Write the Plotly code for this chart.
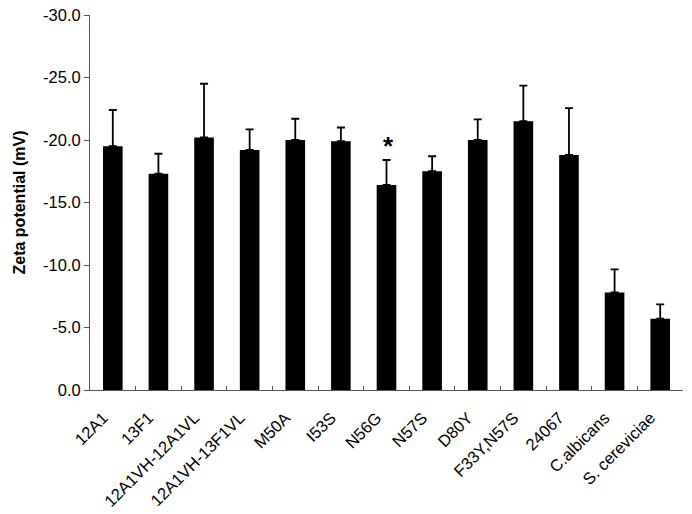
import plotly.graph_objects as go

categories = ["12A1", "13F1", "12A1VH-12A1VL", "12A1VH-13F1VL", "M50A", "I53S",
              "N56G", "N57S", "D80Y", "F33Y,N57S", "24067", "C.albicans", "S. cereviciae"]
zeta = [-19.5, -17.3, -20.2, -19.2, -20.0, -19.9, -16.4, -17.5, -20.0, -21.5, -18.8, -7.8, -5.7]
sd = [2.9, 1.6, 4.3, 1.65, 1.7, 1.1, 2.0, 1.2, 1.65, 2.85, 3.75, 1.85, 1.15]
y_ticks = [0, -5, -10, -15, -20, -25, -30]
star_category = "N56G"

font = "Liberation Sans, Arial, sans-serif"

fig = go.Figure()
fig.add_trace(go.Bar(
    x=categories, y=zeta,
    marker=dict(color="black", line=dict(width=0)),
    error_y=dict(type="data", symmetric=False, array=[0] * len(sd), arrayminus=sd,
                 color="black", thickness=1.8, width=4),
))

si = categories.index(star_category)
fig.add_annotation(x=star_category, y=zeta[si] - sd[si], text="<b>*</b>", showarrow=False,
                   yanchor="bottom", yshift=-3, xshift=2,
                   font=dict(family=font, size=26, color="black"))

fig.update_layout(
    width=692, height=514,
    margin=dict(l=90, r=9, t=15, b=124),
    paper_bgcolor="white", plot_bgcolor="white",
    bargap=0.57, showlegend=False,
    font=dict(family=font, size=16, color="black"),
)
fig.update_xaxes(
    range=[-0.5, len(categories) - 0.5], tickangle=-45, tickson="boundaries",
    tickvals=categories, ticktext=[c + "\u00a0\u00a0\u00a0" for c in categories],
    ticks="inside", ticklen=4, tickcolor="#555", showline=True, linecolor="#555", linewidth=1,
    showgrid=False, tickfont=dict(size=16.5), automargin=False, ticklabelstandoff=1,
)
fig.update_yaxes(
    range=[0, -30], tickvals=y_ticks, ticktext=[f"{v:.1f}" for v in y_ticks],
    ticks="outside", ticklen=5, tickcolor="#555", showline=True, linecolor="#555", linewidth=1,
    showgrid=False, zeroline=False, tickfont=dict(size=16.5), automargin=False,
    title=dict(text="<b>Zeta potential (mV)</b>", font=dict(size=16), standoff=13),
)

fig.write_html("out.html", config={"displayModeBar": False},
               post_script="document.body.style.margin='0';document.body.style.overflow='hidden';")
